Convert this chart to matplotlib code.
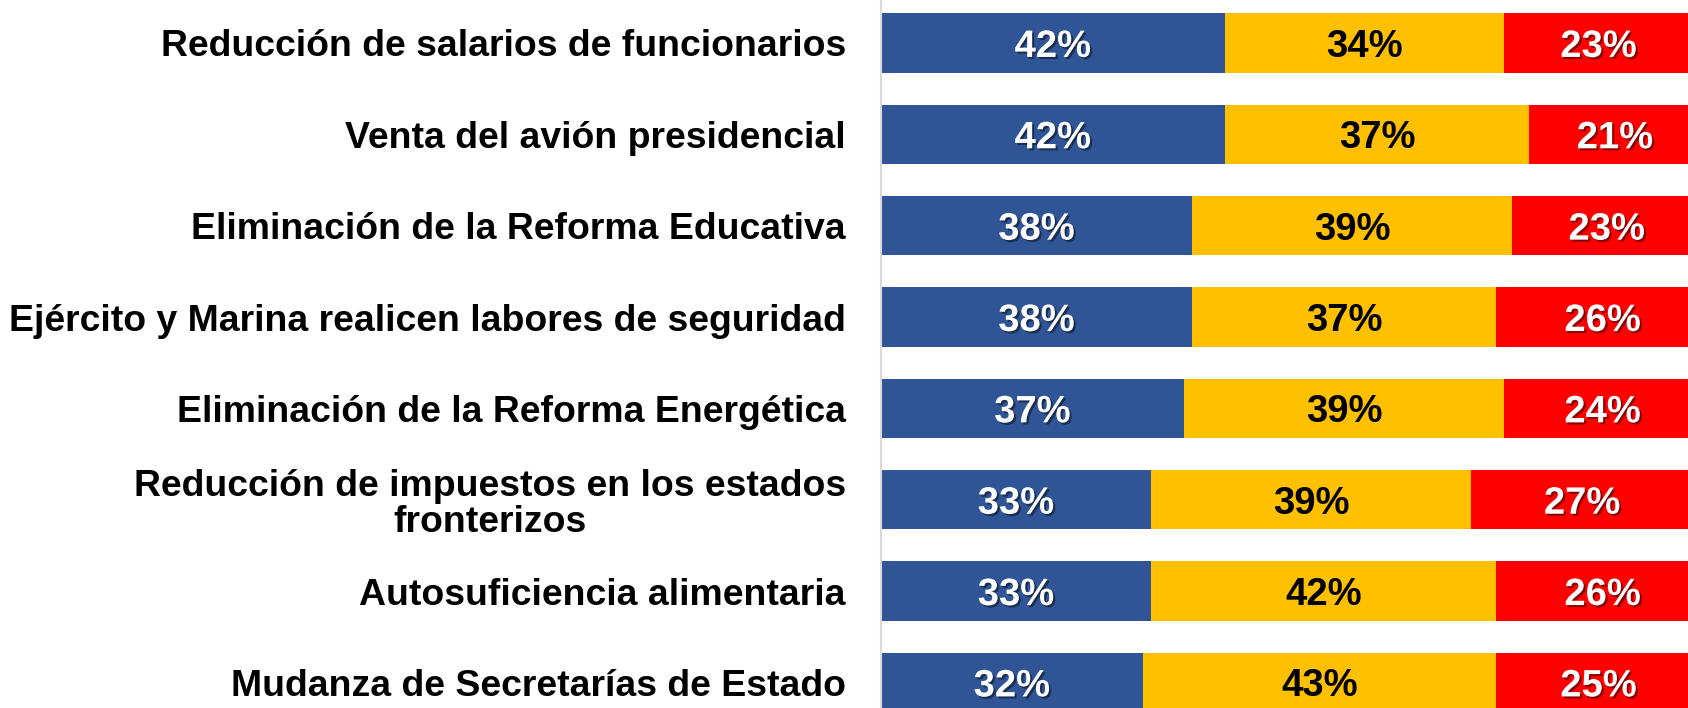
import matplotlib
matplotlib.use("Agg")
import matplotlib.pyplot as plt
import matplotlib.patheffects as pe
import numpy as np

categories = [
    "Reducción de salarios de funcionarios",
    "Venta del avión presidencial",
    "Eliminación de la Reforma Educativa",
    "Ejército y Marina realicen labores de seguridad",
    "Eliminación de la Reforma Energética",
    "Reducción de impuestos en los estados\nfronterizos",
    "Autosuficiencia alimentaria",
    "Mudanza de Secretarías de Estado",
]
blue_vals = [42, 42, 38, 38, 37, 33, 33, 32]
yellow_vals = [34, 37, 39, 37, 39, 39, 42, 43]
red_vals = [23, 21, 23, 26, 24, 27, 26, 25]

colors = ["#2F5597", "#FFC000", "#FF0000"]
label_colors = ["white", "black", "white"]

fig = plt.figure(figsize=(16.88, 7.08), dpi=100)
ax = fig.add_axes([0.5217, 0.0, 0.4783, 1.0])

y = np.arange(len(categories))
left = np.zeros(len(categories))
shadow = [pe.SimplePatchShadow(offset=(1.5, -1.5), shadow_rgbFace="black", alpha=0.45), pe.Normal()]

for vals, col, tcol in zip([blue_vals, yellow_vals, red_vals], colors, label_colors):
    vals = np.array(vals, dtype=float)
    ax.barh(y, vals, left=left, height=0.65, color=col, edgecolor="none")
    for yi, l, v in zip(y, left, vals):
        ax.text(l + v / 2, yi, f"{int(v)}%", ha="center", va="center_baseline",
                color=tcol, fontsize=27.5, fontweight="bold",
                family=["Liberation Sans", "DejaVu Sans"],
                path_effects=shadow if tcol == "white" else None)
    left = left + vals

ax.set_xlim(0, 98.4)
ax.set_ylim(7.28, -0.47)
ax.set_xticks([])
ax.set_yticks(y)
ax.set_yticklabels(categories)
for lab in ax.get_yticklabels():
    lab.set_fontsize(26.9)
    lab.set_fontweight("bold")
    lab.set_family(["Liberation Sans", "DejaVu Sans"])
    lab.set_multialignment("center")
    lab.set_linespacing(1.05)
ax.tick_params(axis="y", length=0, pad=25)

for s in ["top", "right", "bottom"]:
    ax.spines[s].set_visible(False)
ax.spines["left"].set_color("#D9D9D9")
ax.spines["left"].set_linewidth(1.5)

fig.savefig("out.png", dpi=100)
